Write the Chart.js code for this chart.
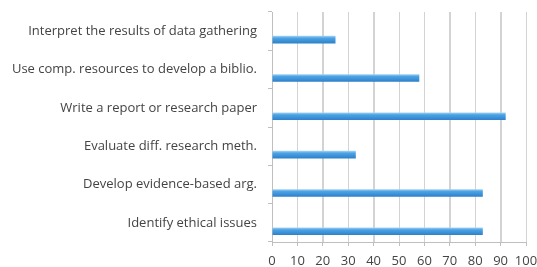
<!DOCTYPE html>
<html>
<head>
<meta charset="utf-8">
<script src="https://cdn.jsdelivr.net/npm/chart.js@4/dist/chart.umd.min.js"></script>
<style>
  html, body { margin: 0; padding: 0; background: #fff; }
  #wrap { width: 537px; height: 267px; }
</style>
</head>
<body>
<div id="wrap"><canvas id="c" width="537" height="267"></canvas></div>
<script>
const categories = [
  "Interpret the results of data gathering",
  "Use comp. resources to develop a biblio.",
  "Write a report or research paper",
  "Evaluate diff. research meth.",
  "Develop evidence-based arg.",
  "Identify ethical issues"
];
const values = [25, 58, 92, 33, 83, 83];
const emptySeries = [null, null, null, null, null, null];

const gradientPlugin = {
  id: 'barGradient',
  beforeDatasetsDraw(chart) {
    const ctx = chart.ctx;
    const meta = chart.getDatasetMeta(1);
    meta.data.forEach(el => {
      const h = el.height;
      const top = el.y - h / 2;
      const g = ctx.createLinearGradient(0, top, 0, top + h);
      g.addColorStop(0, '#a8d6f5');
      g.addColorStop(0.3, '#4ea3e3');
      g.addColorStop(0.7, '#3990d8');
      g.addColorStop(1, '#2f7fc6');
      el.options = Object.assign({}, el.options, { backgroundColor: g });
    });
  }
};

const gridPlugin = {
  id: 'vGrid',
  beforeDatasetsDraw(chart) {
    const ctx = chart.ctx;
    const xs = chart.scales.x;
    const area = chart.chartArea;
    ctx.save();
    ctx.strokeStyle = '#d3d3d3';
    ctx.lineWidth = 1;
    xs.ticks.forEach(t => {
      if (t.value === 0) return;
      const x = Math.round(xs.getPixelForValue(t.value)) + 0.5;
      ctx.beginPath();
      ctx.moveTo(x, area.top);
      ctx.lineTo(x, area.bottom);
      ctx.stroke();
    });
    ctx.restore();
  }
};

new Chart(document.getElementById('c'), {
  type: 'bar',
  data: {
    labels: categories,
    datasets: [
      { data: emptySeries, backgroundColor: 'rgba(0,0,0,0)' },
      { data: values, backgroundColor: () => '#3d95dc' }
    ]
  },
  options: {
    indexAxis: 'y',
    responsive: false,
    animation: false,
    layout: { padding: { top: 12, right: 11, left: 0, bottom: 0 } },
    datasets: { bar: { categoryPercentage: 0.88, barPercentage: 0.45 } },
    plugins: { legend: { display: false }, tooltip: { enabled: false } },
    scales: {
      x: {
        min: 0, max: 100,
        afterFit(scale) { scale.height = 25; scale.paddingLeft = 0; scale.paddingRight = 0; },
        grid: { color: '#d3d3d3', lineWidth: 1, drawOnChartArea: true, tickLength: 4, tickColor: '#bfbfbf' },
        border: { color: '#bfbfbf' },
        ticks: { stepSize: 10, color: '#444', font: { family: 'Open Sans', size: 13 }, padding: 7, maxRotation: 0, autoSkip: false }
      },
      y: {
        afterFit(scale) { scale.width = 272; scale.paddingTop = 0; scale.paddingBottom = 0; },
        grid: { drawOnChartArea: false, tickLength: 4, tickColor: '#bfbfbf', offset: true },
        border: { color: '#bfbfbf' },
        ticks: { color: '#444', font: { family: 'Open Sans', size: 13 }, padding: 11 }
      }
    }
  },
  plugins: [gridPlugin, gradientPlugin]
});
</script>
</body>
</html>
